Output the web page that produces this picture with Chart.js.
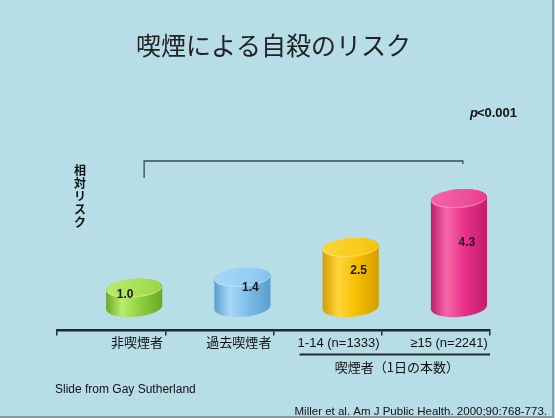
<!DOCTYPE html>
<html>
<head>
<meta charset="utf-8">
<script src="https://cdn.jsdelivr.net/npm/chart.js@4.4.0/dist/chart.umd.min.js"></script>
<style>
  html, body { margin: 0; padding: 0; background: #b7dde7; }
  canvas { display: block; }
</style>
</head>
<body>
<canvas id="riskChart" width="555" height="418"></canvas>
<script>
// relative risk of suicide by smoking status
const categories = ['非喫煙者', '過去喫煙者', '1-14 (n=1333)', '≥15 (n=2241)'];
const relativeRisk = [1.0, 1.4, 2.5, 4.3];
const yAxisLabel = ['相', '対', 'リ', 'ス', 'ク'];
const smokerGroupLabel = '喫煙者（1日の本数）';
const pValueText = '<0.001';

const palette = [
  { base: '#8fd13c', light: '#b9ec6e', dark: '#6aa826', top: '#a4dd52' },
  { base: '#7dbde9', light: '#a9d8f6', dark: '#5a9dd0', top: '#93cbf0' },
  { base: '#f5c000', light: '#ffd63a', dark: '#d49d00', top: '#f9c91a' },
  { base: '#e8318a', light: '#f567a9', dark: '#c21c6b', top: '#ee4a98' }
];

const SANS = "'Liberation Sans', 'Noto Sans CJK JP', sans-serif";
const JP = "'Noto Sans CJK JP', sans-serif";
const INK = '#1d2a30';

function drawCylinder(ctx, cx, top, base, w, pal) {
  const rx = w / 2, ry = 9.5, tilt = -0.08;
  ctx.save();
  const g = ctx.createLinearGradient(cx - rx, 0, cx + rx, 0);
  g.addColorStop(0, pal.dark);
  g.addColorStop(0.28, pal.light);
  g.addColorStop(0.6, pal.base);
  g.addColorStop(1, pal.dark);
  ctx.fillStyle = g;
  ctx.beginPath();
  ctx.ellipse(cx, base, rx, ry, tilt, 0, Math.PI, false);
  ctx.ellipse(cx, top, rx, ry, tilt, Math.PI, 2 * Math.PI, false);
  ctx.closePath();
  ctx.fill();

  // top face
  const tg = ctx.createLinearGradient(cx - rx, top - ry, cx + rx, top + ry);
  tg.addColorStop(0, pal.light);
  tg.addColorStop(0.7, pal.top);
  tg.addColorStop(1, pal.base);
  ctx.fillStyle = tg;
  ctx.beginPath();
  ctx.ellipse(cx, top, rx, ry, tilt, 0, 2 * Math.PI);
  ctx.fill();
  ctx.strokeStyle = 'rgba(255,255,255,0.35)';
  ctx.lineWidth = 1;
  ctx.beginPath();
  ctx.ellipse(cx, top, rx - 1, ry - 1, tilt, 0.1, Math.PI - 0.1);
  ctx.stroke();
  ctx.restore();
}

function barShift(chart) {
  return chart.scales.x.width / categories.length * 0.213;
}

const cylinderPlugin = {
  id: 'cylinders',
  beforeDatasetDraw(chart, args) {
    const ctx = chart.ctx;
    const shift = barShift(chart);
    args.meta.data.forEach((bar, i) => {
      const p = bar.getProps(['x', 'y', 'base', 'width'], true);
      drawCylinder(ctx, p.x + shift, p.y, p.base, p.width, palette[i % palette.length]);
    });
    return false;
  },
  afterDatasetsDraw(chart) {
    const ctx = chart.ctx;
    const shift = barShift(chart);
    const meta = chart.getDatasetMeta(0);
    ctx.save();
    ctx.font = 'bold 12px ' + SANS;
    ctx.fillStyle = '#1a1a1a';
    ctx.textAlign = 'center';
    ctx.textBaseline = 'middle';
    meta.data.forEach((bar, i) => {
      const p = bar.getProps(['x', 'y', 'base'], true);
      const h = p.base - p.y;
      const lx = p.x + shift + (h < 25 ? -9 : 8);
      ctx.fillText(relativeRisk[i].toFixed(1), lx, p.y + 0.42 * h - 2);
    });
    ctx.restore();
  }
};

const annotationPlugin = {
  id: 'annotations',
  afterDraw(chart) {
    const ctx = chart.ctx;
    const xs = chart.scales.x;
    const area = chart.chartArea;
    ctx.save();

    // bracket spanning all groups
    const bl = xs.getPixelForValue(0) + 33;
    const br = xs.getPixelForValue(3) + 27;
    const by = 161;
    ctx.strokeStyle = '#3a4a50';
    ctx.lineWidth = 1.3;
    ctx.beginPath();
    ctx.moveTo(bl, by + 17);
    ctx.lineTo(bl, by);
    ctx.lineTo(br, by);
    ctx.lineTo(br, by + 3);
    ctx.stroke();

    // p value
    ctx.fillStyle = '#111';
    ctx.textBaseline = 'middle';
    ctx.textAlign = 'left';
    ctx.font = 'italic bold 13px ' + SANS;
    const px = 470, py = 113;
    ctx.fillText('p', px, py);
    const pw = ctx.measureText('p').width;
    ctx.font = 'bold 13px ' + SANS;
    ctx.fillText(pValueText, px + pw - 1, py);

    // vertical axis caption
    ctx.font = 'bold 12px ' + JP;
    ctx.textAlign = 'center';
    yAxisLabel.forEach((ch, i) => ctx.fillText(ch, 80, 170 + i * 13));

    // smokers group line and caption
    const gl = xs.getPixelForValue(2) - 28;
    const gy = area.bottom + 24;
    ctx.strokeStyle = INK;
    ctx.lineWidth = 2;
    ctx.beginPath();
    ctx.moveTo(gl, gy);
    ctx.lineTo(area.right, gy);
    ctx.stroke();
    ctx.font = '13px ' + JP;
    ctx.fillStyle = '#111';
    ctx.fillText(smokerGroupLabel, (gl + area.right) / 2 + 2, gy + 13);

    // credits
    ctx.font = '12px ' + SANS;
    ctx.textAlign = 'left';
    ctx.fillText('Slide from Gay Sutherland', 55, 390);
    ctx.font = '11.5px ' + SANS;
    ctx.textAlign = 'right';
    ctx.fillText('Miller et al. Am J Public Health. 2000;90:768-773.', 547, 412);

    // frame edge
    ctx.strokeStyle = '#8a9a9f';
    ctx.lineWidth = 2;
    ctx.beginPath();
    ctx.moveTo(0, 417);
    ctx.lineTo(553, 417);
    ctx.lineTo(553, 0);
    ctx.stroke();
    ctx.restore();
  }
};

new Chart(document.getElementById('riskChart'), {
  type: 'bar',
  data: {
    labels: categories,
    datasets: [{
      data: relativeRisk,
      base: 0.3,
      backgroundColor: palette.map(p => p.base),
      categoryPercentage: 1,
      barPercentage: 0.52
    }]
  },
  options: {
    responsive: false,
    animation: false,
    layout: { padding: { left: 57, right: 65, top: 0, bottom: 67 } },
    plugins: {
      legend: { display: false },
      tooltip: { enabled: false },
      title: {
        display: true,
        text: '喫煙による自殺のリスク',
        color: '#222',
        font: { family: JP, size: 25, weight: 'normal' },
        padding: { top: 30, bottom: 90 }
      }
    },
    scales: {
      y: { display: false, min: -0.55, max: 6.1 },
      x: {
        border: { display: true, color: INK, width: 2.5 },
        grid: {
          offset: true,
          drawOnChartArea: false,
          drawTicks: true,
          tickLength: 5,
          color: INK,
          lineWidth: 1.5
        },
        ticks: {
          align: 'end',
          labelOffset: 52,
          padding: 0,
          color: '#111',
          font: { family: SANS, size: 13 }
        }
      }
    }
  },
  plugins: [cylinderPlugin, annotationPlugin]
});
</script>
</body>
</html>
